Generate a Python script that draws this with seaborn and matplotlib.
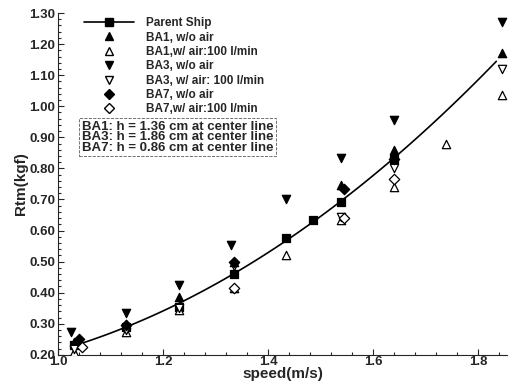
import numpy as np
import pandas as pd
import matplotlib
matplotlib.use('Agg')
import matplotlib.pyplot as plt
from matplotlib.lines import Line2D
from matplotlib.ticker import MultipleLocator, FormatStrFormatter
import seaborn as sns

# Parent ship (filled squares + fitted curve)
parent_speed = [1.03, 1.13, 1.23, 1.335, 1.435, 1.485, 1.54, 1.64]
parent_rtm = [0.232, 0.291, 0.355, 0.46, 0.575, 0.634, 0.693, 0.83]

# BA1
ba1_off_speed = [1.03, 1.13, 1.23, 1.335, 1.54, 1.64, 1.845]
ba1_off_rtm = [0.24, 0.30, 0.385, 0.50, 0.745, 0.86, 1.17]
ba1_on_speed = [1.03, 1.13, 1.23, 1.335, 1.435, 1.54, 1.64, 1.74, 1.845]
ba1_on_rtm = [0.21, 0.275, 0.345, 0.415, 0.52, 0.635, 0.74, 0.88, 1.035]

# BA3
ba3_off_speed = [1.025, 1.13, 1.23, 1.33, 1.435, 1.54, 1.64, 1.845]
ba3_off_rtm = [0.275, 0.335, 0.425, 0.555, 0.70, 0.835, 0.955, 1.27]
ba3_on_speed = [1.03, 1.13, 1.23, 1.335, 1.54, 1.64, 1.845]
ba3_on_rtm = [0.22, 0.28, 0.35, 0.485, 0.645, 0.80, 1.12]

# BA7
ba7_off_speed = [1.04, 1.13, 1.335, 1.545, 1.64]
ba7_off_rtm = [0.25, 0.295, 0.50, 0.735, 0.83]
ba7_on_speed = [1.045, 1.335, 1.545, 1.64]
ba7_on_rtm = [0.225, 0.415, 0.64, 0.765]

labels = ['Parent Ship', 'BA1, w/o air', 'BA1,w/ air:100 l/min', 'BA3, w/o air',
          'BA3, w/ air: 100 l/min', 'BA7, w/o air', 'BA7,w/ air:100 l/min']
note = ('BA1: h = 1.36 cm at center line\n'
        'BA3: h = 1.86 cm at center line\n'
        'BA7: h = 0.86 cm at center line')

sns.set_style('ticks')
plt.rcParams['font.family'] = ['Liberation Sans', 'DejaVu Sans']
plt.rcParams['font.weight'] = 'bold'

fig = plt.figure(figsize=(5.14, 3.84), dpi=100)
ax = fig.add_axes([0.113, 0.076, 0.873, 0.89])

# quadratic fit of parent ship resistance, drawn up to the top speed
coef = np.polyfit(parent_speed, parent_rtm, 2)
curve_x = np.linspace(min(parent_speed), 1.835, 100)
curve = pd.DataFrame({'speed': curve_x, 'rtm': np.polyval(coef, curve_x)})
sns.lineplot(data=curve, x='speed', y='rtm', color='black', lw=1.2, ax=ax)

series = [
    (parent_speed, parent_rtm, 's', 'black'),
    (ba1_off_speed, ba1_off_rtm, '^', 'black'),
    (ba1_on_speed, ba1_on_rtm, '^', 'white'),
    (ba3_off_speed, ba3_off_rtm, 'v', 'black'),
    (ba3_on_speed, ba3_on_rtm, 'v', 'white'),
    (ba7_off_speed, ba7_off_rtm, 'D', 'black'),
    (ba7_on_speed, ba7_on_rtm, 'D', 'white'),
]
handles = []
for i, (xs, ys, mk, fc) in enumerate(series):
    size = 28 if mk == 'D' else 36
    sns.scatterplot(x=xs, y=ys, marker=mk, s=size, color=fc, edgecolor='black',
                    linewidth=0.9, ax=ax, zorder=3)
    handles.append(Line2D([], [], marker=mk, markersize=5.5 if mk != 'D' else 4.8,
                          markerfacecolor=fc, markeredgecolor='black',
                          color='black', lw=1.2 if i == 0 else 0))

ax.legend(handles, labels, loc='upper left', bbox_to_anchor=(0.04, 1.012),
          frameon=False, fontsize=8.5, handlelength=4.2, handletextpad=1.0,
          labelspacing=0.2, borderpad=0.2)

ax.text(0.053, 0.684, note, transform=ax.transAxes, fontsize=9.5, va='top',
        linespacing=0.82,
        bbox=dict(boxstyle='square,pad=0.2', fc='none', ec='0.35', ls='--', lw=0.6))

ax.set_xlim(1.0, 1.855)
ax.set_ylim(0.2, 1.3)
ax.xaxis.set_major_locator(MultipleLocator(0.2))
ax.xaxis.set_minor_locator(MultipleLocator(0.04))
ax.yaxis.set_major_locator(MultipleLocator(0.1))
ax.yaxis.set_minor_locator(MultipleLocator(0.02))
ax.xaxis.set_major_formatter(FormatStrFormatter('%.1f'))
ax.yaxis.set_major_formatter(FormatStrFormatter('%.2f'))
ax.tick_params(which='both', direction='in', labelsize=9.5, width=0.8)
ax.tick_params(which='major', length=4)
ax.tick_params(which='minor', length=2)
ax.tick_params(axis='x', pad=1)
ax.tick_params(axis='y', pad=2)
sns.despine(ax=ax)

ax.set_xlabel('speed(m/s)', fontsize=11, fontweight='bold', labelpad=-1)
ax.set_ylabel('Rtm(kgf)', fontsize=11, fontweight='bold', labelpad=1)

fig.savefig('out.png', dpi=100)
